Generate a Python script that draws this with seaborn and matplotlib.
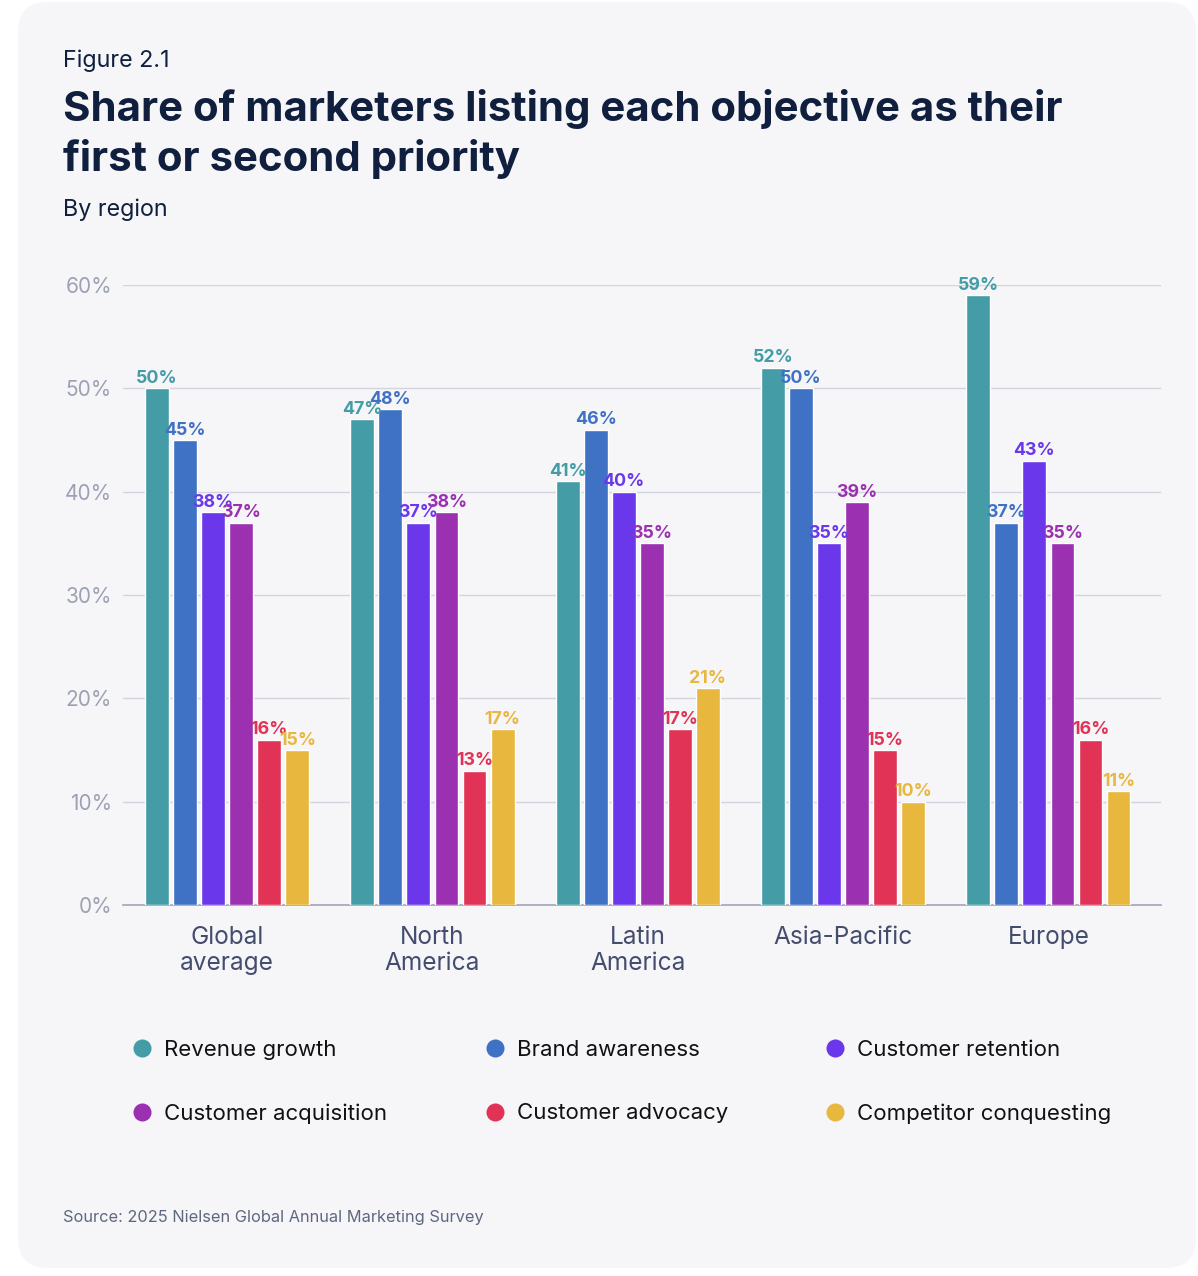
import pandas as pd
import seaborn as sns
import matplotlib.pyplot as plt
from matplotlib.lines import Line2D
from matplotlib.patches import FancyBboxPatch

# Data
regions = ["Global\naverage", "North\nAmerica", "Latin\nAmerica", "Asia-Pacific", "Europe"]
objectives = ["Revenue growth", "Brand awareness", "Customer retention",
              "Customer acquisition", "Customer advocacy", "Competitor conquesting"]
revenue_growth = [50, 47, 41, 52, 59]
brand_awareness = [45, 48, 46, 50, 37]
customer_retention = [38, 37, 40, 35, 43]
customer_acquisition = [37, 38, 35, 39, 35]
customer_advocacy = [16, 13, 17, 15, 16]
competitor_conquesting = [15, 17, 21, 10, 11]
colors = ["#449da6", "#3f72c4", "#6a38ea", "#9b30b0", "#e03355", "#e8b73e"]

series = [revenue_growth, brand_awareness, customer_retention,
          customer_acquisition, customer_advocacy, competitor_conquesting]
rows = []
for obj, vals in zip(objectives, series):
    for reg, v in zip(regions, vals):
        rows.append({"Region": reg, "Objective": obj, "Share": v})
df = pd.DataFrame(rows)
palette = dict(zip(objectives, colors))

sns.set_style("white")
plt.rcParams['font.family'] = ['Inter', 'DejaVu Sans']

navy = "#0f1f3d"
fig = plt.figure(figsize=(11.98, 12.76), dpi=100)
fig.patch.set_facecolor("white")

# card background
card = FancyBboxPatch((18, 8), 1178, 1266, boxstyle="round,pad=0,rounding_size=30",
                      transform=None, facecolor="#f6f6f9", edgecolor="none", zorder=-5)
fig.patches.append(card)

ax = fig.add_axes([0.1027, 0.2908, 0.866, 0.4859])
ax.set_facecolor("none")

sns.barplot(data=df, x="Region", y="Share", hue="Objective", hue_order=objectives,
            order=regions, palette=palette, width=0.82, gap=0.15, ax=ax,
            legend=False, errorbar=None, saturation=1, zorder=3)

for container, c in zip(ax.containers, colors):
    ax.bar_label(container, labels=[f"{v:.0f}%" for v in container.datavalues],
                 color=c, fontsize=12.8, fontweight="bold", padding=1, zorder=4)

ax.set_xlim(-0.507, 4.546)
ax.set_ylim(0, 60)
ax.set_yticks(range(0, 61, 10))
ax.set_yticklabels([f"{t}%" for t in range(0, 61, 10)])
ax.grid(axis="y", color="#d3d4df", linewidth=1, zorder=0)
ax.set_axisbelow(True)
for s in ["top", "right", "left"]:
    ax.spines[s].set_visible(False)
ax.spines["bottom"].set_color("#a9abbe")
ax.spines["bottom"].set_linewidth(1.3)
ax.tick_params(axis="y", length=0, pad=8, labelsize=15, labelcolor="#9ca1b3")
ax.tick_params(axis="x", length=0, pad=15, labelsize=17.6, labelcolor="#454d6e")
for lbl in ax.get_xticklabels():
    lbl.set_linespacing(1.2)
ax.set_xlabel("")
ax.set_ylabel("")

# titles
fig.text(63 / 1198, 1 - 67 / 1276, "Figure 2.1", fontsize=16.8, color=navy, va="baseline")
fig.text(63 / 1198, 1 - 89 / 1276,
         "Share of marketers listing each objective as their\nfirst or second priority",
         fontsize=30.2, fontweight="bold", color=navy, va="top", linespacing=1.32)
fig.text(63 / 1198, 1 - 216 / 1276, "By region", fontsize=16.8, color=navy, va="baseline")
fig.text(63 / 1198, 1 - 1222 / 1276, "Source: 2025 Nielsen Global Annual Marketing Survey",
         fontsize=11.8, color="#5f6680", va="baseline")

# legend, filled row by row
order = [0, 3, 1, 4, 2, 5]
handles = [Line2D([], [], marker="o", linestyle="", markersize=13,
                  markerfacecolor=colors[i], markeredgecolor="none") for i in order]
labels = [objectives[i] for i in order]
fig.legend(handles, labels, ncol=3, loc="upper left", frameon=False,
           bbox_to_anchor=(131 / 1198, 1 - 1040 / 1276), borderaxespad=0, borderpad=0,
           fontsize=16, labelcolor="#111111", handlelength=1.0, handletextpad=0.5,
           columnspacing=4.32, labelspacing=1.95)

fig.savefig("out.png", dpi=100, facecolor="white")
